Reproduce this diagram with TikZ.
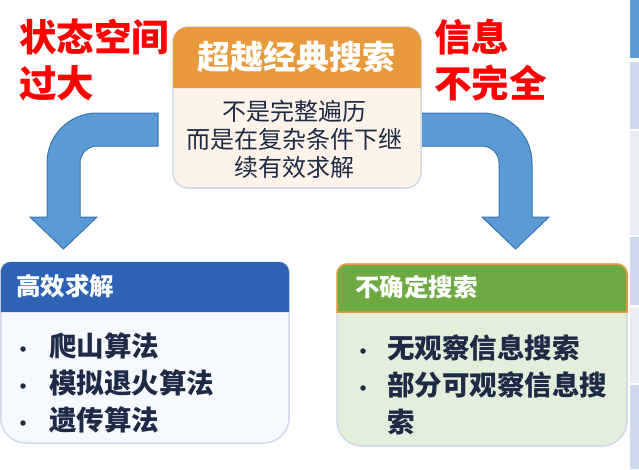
\documentclass[tikz,border=0pt]{standalone}
\usepackage{fontspec}
\setmainfont{Noto Sans CJK SC}
\definecolor{redtxt}{HTML}{FF0000}
\definecolor{hdrorange}{HTML}{E8993B}
\definecolor{topbody}{HTML}{FDF3E8}
\definecolor{boxborder}{HTML}{D0D8EA}
\definecolor{arrowfill}{HTML}{5B9BD5}
\definecolor{arrowdraw}{HTML}{3A75B0}
\definecolor{bluehdr}{HTML}{2E62B4}
\definecolor{leftbody}{HTML}{F6F9FE}
\definecolor{greenhdr}{HTML}{6EAA44}
\definecolor{greenbody}{HTML}{E2EFDA}
\definecolor{navy}{HTML}{1E2B47}
\definecolor{tabblue}{HTML}{5B9BD5}
\definecolor{tabdark}{HTML}{CFD9EE}
\definecolor{tablight}{HTML}{E8ECF6}
\tikzset{
  redlabel/.style={anchor=west, inner sep=0pt, text=redtxt, font=\fontsize{37.5pt}{40pt}\selectfont\bfseries},
  hdrtext/.style={anchor=west, inner sep=0pt, text=white, font=\fontsize{24.5pt}{28pt}\selectfont\bfseries},
  bodytext/.style={inner sep=0pt, text=navy, align=center, font=\fontsize{24pt}{28pt}\selectfont},
  itemtext/.style={anchor=west, inner sep=0pt, text=navy, font=\fontsize{27.5pt}{30pt}\selectfont\bfseries},
  bulletdot/.style={circle, fill=navy, inner sep=0pt, minimum size=5.5pt},
  blockarrow/.style={fill=arrowfill, draw=arrowdraw, line width=1pt, line join=miter},
  boxline/.style={draw=boxborder, line width=1.5pt}
}
\begin{document}
\begin{tikzpicture}[x=1pt,y=-1pt]
\useasboundingbox (0,0) rectangle (639,469);
% table strip at the right edge
\fill[tabblue] (630,0) rectangle (639,58);
\fill[tabdark] (630,62) rectangle (639,129);
\fill[tablight] (630,131) rectangle (639,235);
\fill[tabdark] (630,237) rectangle (639,305);
\fill[tablight] (630,308) rectangle (639,383);
\fill[tabdark] (630,385) rectangle (639,469);
% red labels
\node[redlabel] (l1) at (19,37) {状态空间};
\node[redlabel] (l2) at (19,83) {过大};
\node[redlabel] (r1) at (434,37) {信息};
\node[redlabel] (r2) at (434,83) {不完全};
% block arrows
\draw[blockarrow] (158,113) -- (97,113) arc[start angle=270,end angle=180,radius=50]
  -- (47,217) -- (30,217) -- (63.5,249) -- (97,217) -- (80,217) -- (80,163)
  arc[start angle=180,end angle=270,radius=17] -- (158,146) -- cycle;
\draw[blockarrow] (421,113) -- (482,113) arc[start angle=270,end angle=360,radius=50]
  -- (532,217) -- (549,217) -- (515.5,249) -- (482,217) -- (499,217) -- (499,163)
  arc[start angle=0,end angle=-90,radius=17] -- (421,146) -- cycle;
% top box
\filldraw[fill=topbody, boxline, rounded corners=15pt] (173,27) rectangle (421,188);
\fill[hdrorange] (173,88) -- (173,42) arc[start angle=180,end angle=270,radius=15]
  -- (406,27) arc[start angle=270,end angle=360,radius=15] -- (421,88) -- cycle;
\node[anchor=center, inner sep=0pt, text=white, font=\fontsize{33pt}{36pt}\selectfont\bfseries] (toph) at (296,57) {超越经典搜索};
\node[bodytext] (topb) at (294,139) {不是完整遍历\\而是在复杂条件下继\\续有效求解};
% left bottom box
\filldraw[fill=leftbody, boxline] (0.75,272) arc[start angle=180,end angle=270,radius=10]
  -- (279,262) arc[start angle=270,end angle=360,radius=10]
  -- (289,418) arc[start angle=0,end angle=90,radius=25]
  -- (25.75,443) arc[start angle=90,end angle=180,radius=25] -- cycle;
\fill[bluehdr] (0.75,312) -- (0.75,272) arc[start angle=180,end angle=270,radius=10]
  -- (279,262) arc[start angle=270,end angle=360,radius=10] -- (289,312) -- cycle;
\node[hdrtext] (lh) at (16,286) {高效求解};
\node[bulletdot] (lb1) at (23,349) {};
\node[itemtext] (li1) at (49,346) {爬山算法};
\node[bulletdot] (lb2) at (23,386) {};
\node[itemtext] (li2) at (49,383) {模拟退火算法};
\node[bulletdot] (lb3) at (23,423) {};
\node[itemtext] (li3) at (49,420) {遗传算法};
% right bottom box
\filldraw[fill=greenbody, boxline] (337,274) arc[start angle=180,end angle=270,radius=10]
  -- (617,264) arc[start angle=270,end angle=360,radius=10]
  -- (627,421) arc[start angle=0,end angle=90,radius=25]
  -- (362,446) arc[start angle=90,end angle=180,radius=25] -- cycle;
\filldraw[fill=greenhdr, draw=hdrorange, line width=1.5pt] (337,312) -- (337,274) arc[start angle=180,end angle=270,radius=10]
  -- (617,264) arc[start angle=270,end angle=360,radius=10] -- (627,312) -- cycle;
\node[hdrtext] (rh) at (355,287) {不确定搜索};
\node[bulletdot] (rb1) at (363,351) {};
\node[itemtext] (ri1) at (387,348) {无观察信息搜索};
\node[bulletdot] (rb2) at (363,388) {};
\node[itemtext] (ri2) at (387,385) {部分可观察信息搜};
\node[itemtext] (ri3) at (387,422) {索};
\end{tikzpicture}
\end{document}
